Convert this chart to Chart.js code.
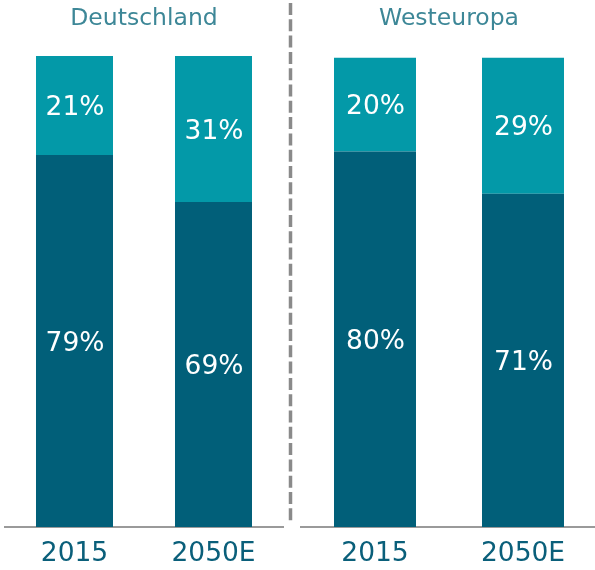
<!DOCTYPE html>
<html>
<head>
<meta charset="utf-8">
<script src="https://cdn.jsdelivr.net/npm/chart.js@4/dist/chart.umd.min.js"></script>
<style>
  html, body { margin: 0; padding: 0; background: #fff; overflow: hidden; }
  #wrap { position: relative; width: 595px; height: 570px; }
  #left { position: absolute; left: 0; top: 0; width: 293px; height: 570px; }
  #right { position: absolute; left: 300px; top: 0; width: 297px; height: 570px; }
</style>
</head>
<body>
<div id="wrap">
  <div id="left"><canvas id="c1"></canvas></div>
  <div id="right"><canvas id="c2"></canvas></div>
</div>
<script>
// ---- data ----
const groupTitles = ["Deutschland", "Westeuropa"];
const categories = ["2015", "2050E"];
const deLower = [79, 69];
const deUpper = [21, 31];
const weLower = [80, 71];
const weUpper = [20, 29];

const DARK = "#015f79";
const LIGHT = "#0399a8";
const FONT = "'DejaVu Sans', Verdana, sans-serif";

const labelPlugin = {
  id: "segLabels",
  afterDatasetsDraw(chart) {
    const ctx = chart.ctx;
    ctx.save();
    ctx.fillStyle = "#ffffff";
    ctx.font = "26.5px " + FONT;
    ctx.textAlign = "center";
    ctx.textBaseline = "middle";
    chart.data.datasets.forEach((ds, di) => {
      const meta = chart.getDatasetMeta(di);
      meta.data.forEach((el, i) => {
        const p = el.getProps(["x", "y", "base"], true);
        ctx.fillText(ds.data[i] + "%", p.x + 0.5, (p.y + p.base) / 2 + 3);
      });
    });
    ctx.restore();
  }
};

const dashPlugin = {
  id: "dashLine",
  afterDraw(chart) {
    const ctx = chart.ctx;
    ctx.save();
    ctx.strokeStyle = "#8a8a8a";
    ctx.lineWidth = 3.5;
    ctx.setLineDash([12, 4.3]);
    ctx.beginPath();
    ctx.moveTo(290.5, 3);
    ctx.lineTo(290.5, 522);
    ctx.stroke();
    ctx.restore();
  }
};

function makeChart(id, title, lower, upper, padLeft, padRight, titleBottom, extraPlugins) {
  return new Chart(document.getElementById(id), {
    type: "bar",
    data: {
      labels: categories,
      datasets: [
        { data: lower, backgroundColor: DARK, borderWidth: 0 },
        { data: upper, backgroundColor: LIGHT, borderWidth: 0 }
      ]
    },
    options: {
      responsive: true,
      maintainAspectRatio: false,
      animation: false,
      devicePixelRatio: 1,
      layout: { padding: { left: padLeft, right: padRight, top: 0, bottom: 0 } },
      datasets: { bar: { categoryPercentage: 1, barPercentage: 0.554 } },
      plugins: {
        legend: { display: false },
        tooltip: { enabled: false },
        title: {
          display: true,
          text: title,
          color: "#3d8797",
          font: { family: FONT, size: 23.5, weight: "normal", lineHeight: 1.2 },
          padding: { top: 5, bottom: titleBottom }
        }
      },
      scales: {
        x: {
          stacked: true,
          grid: { display: true, drawOnChartArea: false, drawTicks: false, color: "rgba(0,0,0,0)" },
          border: { display: true, color: "#9a9a9a", width: 2 },
          ticks: { color: "#0a5f7a", font: { family: FONT, size: 26.5 }, padding: 11, maxRotation: 0 },
          afterFit(scale) { scale.height = 43; }
        },
        y: {
          stacked: true,
          display: false,
          min: 0,
          max: 100
        }
      }
    },
    plugins: [labelPlugin].concat(extraPlugins)
  });
}

makeChart("c1", groupTitles[0], deLower, deUpper, 5, 10, 22.8, [dashPlugin]);
makeChart("c2", groupTitles[1], weLower, weUpper, 1, 0, 24.3, []);
</script>
</body>
</html>
